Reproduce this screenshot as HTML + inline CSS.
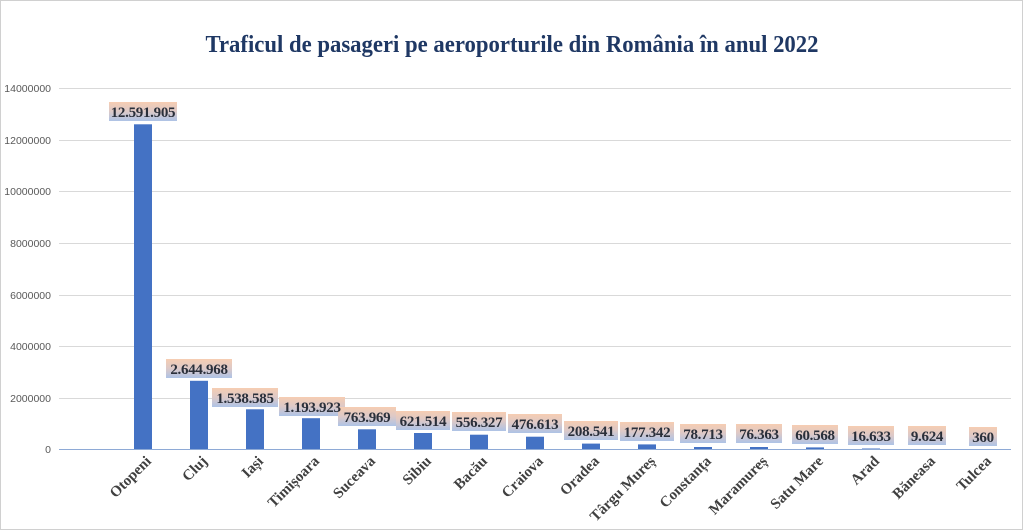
<!DOCTYPE html>
<html><head><meta charset="utf-8"><style>
html,body{margin:0;padding:0;background:#fff;}
svg{display:block;}
</style></head><body>
<svg width="1024" height="532" viewBox="0 0 1024 532" xmlns="http://www.w3.org/2000/svg">
<defs>
<linearGradient id="g" x1="0" y1="0" x2="0" y2="1">
<stop offset="0" stop-color="#f6cdb2"/><stop offset="0.5" stop-color="#dcc9c8"/><stop offset="1" stop-color="#aec3e6"/>
</linearGradient>
</defs>
<rect x="0.5" y="0.5" width="1022" height="529" fill="#fff" stroke="#d0d0d0"/>
<text x="512" y="52" text-anchor="middle" font-family="Liberation Serif, serif" font-weight="bold" font-size="24" fill="#1f3864" textLength="613" lengthAdjust="spacingAndGlyphs">Traficul de pasageri pe aeroporturile din România în anul 2022</text>
<g stroke="#d9d9d9" stroke-width="1">
<line x1="59" x2="1011" y1="88.5" y2="88.5"/>
<line x1="59" x2="1011" y1="140.5" y2="140.5"/>
<line x1="59" x2="1011" y1="191.5" y2="191.5"/>
<line x1="59" x2="1011" y1="243.5" y2="243.5"/>
<line x1="59" x2="1011" y1="295.5" y2="295.5"/>
<line x1="59" x2="1011" y1="346.5" y2="346.5"/>
<line x1="59" x2="1011" y1="398.5" y2="398.5"/>
</g>
<g font-family="Liberation Sans, sans-serif" font-size="10.5" fill="#595959" text-anchor="end">
<text x="51" y="92">14000000</text>
<text x="51" y="144">12000000</text>
<text x="51" y="195">10000000</text>
<text x="51" y="247">8000000</text>
<text x="51" y="299">6000000</text>
<text x="51" y="350">4000000</text>
<text x="51" y="402">2000000</text>
<text x="51" y="453">0</text>
</g>
<g fill="#4472c4">
<rect x="134" y="124.3" width="18" height="324.7"/>
<rect x="190" y="380.8" width="18" height="68.2"/>
<rect x="246" y="409.3" width="18" height="39.7"/>
<rect x="302" y="418.2" width="18" height="30.8"/>
<rect x="358" y="429.3" width="18" height="19.7"/>
<rect x="414" y="433" width="18" height="16"/>
<rect x="470" y="434.7" width="18" height="14.3"/>
<rect x="526" y="436.7" width="18" height="12.3"/>
<rect x="582" y="443.6" width="18" height="5.4"/>
<rect x="638" y="444.4" width="18" height="4.6"/>
<rect x="694" y="447" width="18" height="2"/>
<rect x="750" y="447" width="18" height="2"/>
<rect x="806" y="447.4" width="18" height="1.6"/>
<rect x="862" y="448.5" width="18" height="0.5"/>
</g>
<line x1="59" x2="1011" y1="449.5" y2="449.5" stroke="#8eaad6" stroke-width="1"/>
<g fill="url(#g)">
<rect x="109" y="102" width="68" height="19"/>
<rect x="166" y="359" width="66" height="19"/>
<rect x="212" y="388" width="66" height="19"/>
<rect x="279" y="397" width="66" height="19"/>
<rect x="338" y="407" width="58" height="19"/>
<rect x="396" y="411" width="54" height="19"/>
<rect x="452" y="412" width="54" height="19"/>
<rect x="508" y="414" width="54" height="19"/>
<rect x="564" y="421" width="54" height="19"/>
<rect x="620" y="422" width="54" height="19"/>
<rect x="680" y="424" width="46" height="19"/>
<rect x="736" y="424" width="46" height="19"/>
<rect x="792" y="425" width="46" height="19"/>
<rect x="848" y="426" width="46" height="19"/>
<rect x="908" y="426" width="38" height="19"/>
<rect x="969" y="427" width="28" height="19"/>
</g>
<g font-family="Liberation Serif, serif" font-weight="bold" font-size="15" fill="#2a2f3a" text-anchor="middle" letter-spacing="-0.3">
<text x="143" y="117">12.591.905</text>
<text x="199" y="374">2.644.968</text>
<text x="245" y="403">1.538.585</text>
<text x="312" y="412">1.193.923</text>
<text x="367" y="422">763.969</text>
<text x="423" y="426">621.514</text>
<text x="479" y="427">556.327</text>
<text x="535" y="429">476.613</text>
<text x="591" y="436">208.541</text>
<text x="647" y="437">177.342</text>
<text x="703" y="439">78.713</text>
<text x="759" y="439">76.363</text>
<text x="815" y="440">60.568</text>
<text x="871" y="441">16.633</text>
<text x="927" y="441">9.624</text>
<text x="983" y="442">360</text>
</g>
<g font-family="Liberation Serif, serif" font-weight="bold" font-size="15" fill="#404040" text-anchor="end">
<text transform="translate(152,462) rotate(-45)">Otopeni</text>
<text transform="translate(208,462) rotate(-45)">Cluj</text>
<text transform="translate(264,462) rotate(-45)">Iași</text>
<text transform="translate(320,462) rotate(-45)">Timișoara</text>
<text transform="translate(376,462) rotate(-45)">Suceava</text>
<text transform="translate(432,462) rotate(-45)">Sibiu</text>
<text transform="translate(488,462) rotate(-45)">Bacău</text>
<text transform="translate(544,462) rotate(-45)">Craiova</text>
<text transform="translate(600,462) rotate(-45)">Oradea</text>
<text transform="translate(656,462) rotate(-45)">Târgu Mureș</text>
<text transform="translate(712,462) rotate(-45)">Constanța</text>
<text transform="translate(768,462) rotate(-45)">Maramureș</text>
<text transform="translate(824,462) rotate(-45)">Satu Mare</text>
<text transform="translate(880,462) rotate(-45)">Arad</text>
<text transform="translate(936,462) rotate(-45)">Băneasa</text>
<text transform="translate(992,462) rotate(-45)">Tulcea</text>
</g>
</svg>
</body></html>
